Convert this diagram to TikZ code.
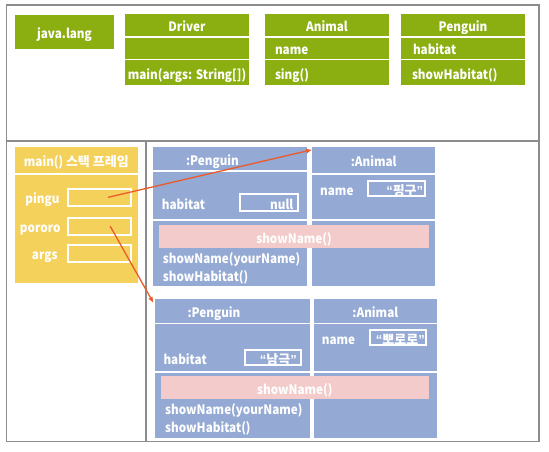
\documentclass[tikz,border=0pt]{standalone}
\usepackage{fontspec}
\setmainfont{Noto Sans CJK KR}[FakeStretch = 0.9]
\newfontfamily\krfont{Noto Sans CJK KR}
\newfontfamily\qtfont{Liberation Sans}
\newcommand{\quoted}[1]{{\qtfont “}{\krfont #1}{\qtfont ”}}
\usetikzlibrary{arrows.meta, positioning}
\definecolor{clsgreen}{HTML}{8BAE11}
\definecolor{stkyellow}{HTML}{F4D15A}
\definecolor{objblue}{HTML}{94A9D3}
\definecolor{barpink}{HTML}{F2CBCA}
\definecolor{refred}{HTML}{E95B2B}
\definecolor{framegray}{HTML}{8C8C8C}
\tikzset{> = { Latex[length = 6pt, width = 5pt] }}

\begin{document}
\begin{tikzpicture}[x = 1pt, y = -1pt, font = \fontsize{13}{15}\selectfont\bfseries,
    box/.style = { anchor = north west, inner sep = 0pt, outer sep = 0pt, text = white, text height = 13pt, text depth = 0pt },
    cls/.style = { box, fill = clsgreen, minimum width = 124pt },
    row/.style = { text width = 104pt, inner xsep = 10pt, align = left },
    stk/.style = { box, fill = stkyellow, minimum width = 122.7pt },
    obj/.style = { box, fill = objblue },
    bar/.style = { box, fill = barpink, minimum height = 23.3pt },
    txt/.style = { inner sep = 0pt, text = white, text height = 13pt, text depth = 0pt },
    val/.style = { draw = white, line width = 2pt, inner xsep = 4.4pt, inner ysep = 0pt, align = right, text = white, text height = 13pt, text depth = 0pt },
    ref/.style = { ->, draw = refred, line width = 1.3pt }]
  \useasboundingbox (0, 0) rectangle (549, 451);

  % frame
  \draw [framegray, line width = 1.5pt] (6.7, 5) rectangle (539, 441.5);
  \draw [framegray, line width = 1.5pt] (6.7, 141) -- (539, 141);
  \draw [framegray, line width = 1.5pt] (146, 141) -- (146, 441.5);

  % classes
  \node [cls, minimum width = 99pt, minimum height = 34pt] (lang) at (15, 15) {java.lang};

  \node [cls, minimum height = 22pt] (drvH) at (125, 14) {Driver};
  \node [cls, minimum height = 21pt, below = 1.5pt of drvH] (drvA) {};
  \node [cls, minimum height = 25pt, below = 1.5pt of drvA] (drvM) {main(args: String[])};

  \node [cls, minimum height = 22pt] (aniH) at (265, 14) {Animal};
  \node [cls, row, minimum height = 21pt, below = 1.5pt of aniH] (aniA) {name};
  \node [cls, row, minimum height = 25pt, below = 1.5pt of aniA] (aniM) {sing()};

  \node [cls, minimum height = 22pt] (pngH) at (401, 14) {Penguin};
  \node [cls, row, inner xsep = 12pt, text width = 100pt, minimum height = 21pt, below = 1.5pt of pngH] (pngA) {habitat};
  \node [cls, row, inner xsep = 11pt, text width = 102pt, minimum height = 25pt, below = 1.5pt of pngA] (pngM) {showHabitat()};

  % main() stack frame
  \node [stk, minimum height = 26.3pt] (stkH) at (15, 146.7) {main() {\krfont 스택 프레임}};
  \node [stk, minimum height = 108.2pt, below = 1.5pt of stkH] (stkB) {};

  \node [val, minimum width = 63pt, minimum height = 17.3pt] (pinguV) at (99.2, 197.3) {};
  \node [val, minimum width = 63pt, minimum height = 17pt] (pororoV) at (99.2, 226.2) {};
  \node [val, minimum width = 63pt, minimum height = 17.3pt] (argsV) at (99.2, 253.3) {};
  \node [txt, left = 7pt of pinguV] (pinguL) {pingu};
  \node [txt, left = 6pt of pororoV] (pororoL) {pororo};
  \node [txt, left = 9pt of argsV] (argsL) {args};

  % pingu objects
  \node [obj, minimum width = 154.6pt, minimum height = 23.6pt] (pngH1) at (152.7, 146.7) {};
  \node [obj, minimum width = 154.6pt, minimum height = 47.5pt, below = 1.5pt of pngH1] (pngA1) {};
  \node [obj, minimum width = 154.6pt, minimum height = 65.2pt, below = 1.5pt of pngA1] (pngM1) {};
  \node [txt] (pngT1) at (212.5, 159.3) {:Penguin};

  \node [obj, minimum width = 122.7pt, minimum height = 26.3pt] (aniH1) at (312.3, 146.7) {:Animal};
  \node [obj, minimum width = 122.7pt, minimum height = 44.8pt, below = 1.5pt of aniH1] (aniA1) {};
  \node [obj, minimum width = 122.7pt, minimum height = 65.2pt, below = 1.5pt of aniA1] (aniM1) {};

  \node [txt, anchor = west] (habL1) at (161.7, 202.5) {habitat};
  \node [val, text width = 48.9pt, minimum height = 17pt] (habV1) at (268.9, 202.5) {null};
  \node [val, inner xsep = 1.5pt, text width = 54pt, minimum height = 15.3pt] (namV1) at (396.2, 188.7) {\quoted{핑구}};
  \node [txt, anchor = west] (namL1) at (320, 188.7) {name};

  \node [bar, minimum width = 270pt] (callB1) at (159, 225) {showName()};
  \node [txt, anchor = west] (shnL1) at (162.7, 256.7) {showName(yourName)};
  \node [txt, anchor = west] (shhL1) at (162.7, 275) {showHabitat()};

  % pororo objects
  \node [obj, minimum width = 155pt, minimum height = 23.5pt] (pngH2) at (155, 299) {};
  \node [obj, minimum width = 155pt, minimum height = 47pt, below = 1.5pt of pngH2] (pngA2) {};
  \node [obj, minimum width = 155pt, minimum height = 65.2pt, below = 1.5pt of pngA2] (pngM2) {};
  \node [txt] (pngT2) at (214, 311) {:Penguin};

  \node [obj, minimum width = 122.7pt, minimum height = 23.5pt] (aniH2) at (314, 299) {:Animal};
  \node [obj, minimum width = 122.7pt, minimum height = 47pt, below = 1.5pt of aniH2] (aniA2) {};
  \node [obj, minimum width = 122.7pt, minimum height = 65.2pt, below = 1.5pt of aniA2] (aniM2) {};

  \node [txt, anchor = west] (habL2) at (163.3, 357.5) {habitat};
  \node [val, text width = 47.8pt, minimum height = 15pt] (habV2) at (273, 357.5) {\quoted{남극}};
  \node [txt, anchor = west] (namL2) at (321.7, 337.5) {name};
  \node [val, inner xsep = 1.5pt, text width = 53.6pt, minimum height = 15pt] (namV2) at (398, 337.5) {\quoted{뽀로로}};

  \node [bar, minimum width = 267.7pt] (callB2) at (161, 376) {showName()};
  \node [txt, anchor = west] (shnL2) at (165, 408.3) {showName(yourName)};
  \node [txt, anchor = west] (shhL2) at (165, 426) {showHabitat()};

  % references
  \draw [ref] ([xshift = 9pt] pinguV.center) -- ([yshift = -3pt] aniH1.north west);
  \draw [ref] ([xshift = 11pt] pororoV.center) -- ([shift = {(-1.5pt, -4pt)}] pngH2.north west);
\end{tikzpicture}
\end{document}
